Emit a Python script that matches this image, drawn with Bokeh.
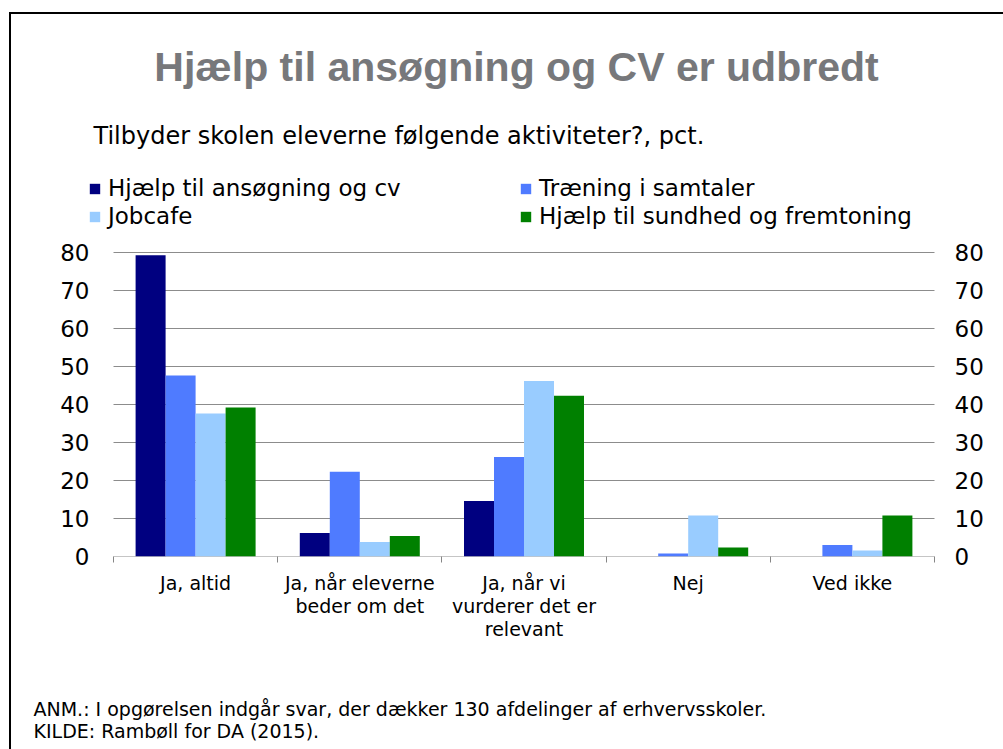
from bokeh.plotting import figure
from bokeh.models import (Range1d, LinearAxis, FixedTicker, Legend, LegendItem, Title, Label,
                          ColumnDataSource)
from bokeh.embed import file_html
from bokeh.resources import INLINE

categories = ["Ja, altid", "Ja, når eleverne\nbeder om det", "Ja, når vi\nvurderer det er\nrelevant", "Nej", "Ved ikke"]
series_names = ["Hjælp til ansøgning og cv", "Træning i samtaler", "Jobcafe", "Hjælp til sundhed og fremtoning"]
cv_help = [79.3, 6.2, 14.6, 0.0, 0.0]
interview = [47.6, 22.3, 26.2, 0.8, 3.0]
jobcafe = [37.6, 3.8, 46.2, 10.8, 1.6]
health = [39.2, 5.4, 42.3, 2.4, 10.8]
series_values = [cv_help, interview, jobcafe, health]
colors = ["#000080", "#4F7BFF", "#99CCFF", "#008000"]
y_ticks = [0, 10, 20, 30, 40, 50, 60, 70, 80]

title_text = "Hjælp til ansøgning og CV er udbredt"
subtitle_text = "Tilbyder skolen eleverne følgende aktiviteter?, pct."
NB = "\u00a0"
note_text = ("ANM.:" + NB + "I opgørelsen indgår svar, der dækker 130 afdelinger af erhvervsskoler.\n"
             "KILDE:" + NB + "Rambøll for DA (2015).")

FONT = "DejaVu Sans"
n = len(categories)

# pixel geometry of the chart (frame extends above the 0-80 area to hold titles/legend)
CAT_W = 164.2          # px per category
PX_PER_UNIT = 3.8      # px per percentage point
X0_PX, Y0_PX = 113, 556
FRAME_L, FRAME_R, FRAME_T = 88, 957, 12
W, H = 1003, 749

x_start = -(X0_PX - FRAME_L) / CAT_W
x_end = n + (FRAME_R - (X0_PX + n * CAT_W)) / CAT_W
y_end = (Y0_PX - FRAME_T) / PX_PER_UNIT

p = figure(width=W, height=H, x_range=Range1d(x_start, x_end), y_range=Range1d(0, y_end),
           output_backend="svg", toolbar_location=None,
           min_border_left=FRAME_L, min_border_right=W - FRAME_R,
           min_border_top=FRAME_T, min_border_bottom=H - Y0_PX,
           x_axis_location=None, y_axis_location=None)
p.outline_line_color = None
p.background_fill_alpha = 0
p.border_fill_alpha = 0
p.styles = {
    "background-color": "white",
    "background-image": "linear-gradient(black, black), linear-gradient(black, black)",
    "background-size": "100% 2px, 2px 100%",
    "background-position": "9px 12px, 9px 12px",
    "background-repeat": "no-repeat",
}
p.xgrid.visible = False
p.ygrid.visible = False

# horizontal gridlines across the category area
p.segment(x0=[0] * len(y_ticks), x1=[n] * len(y_ticks), y0=y_ticks, y1=y_ticks,
          line_color="#8C8C8C", line_width=1)

# y axes
for side, standoff in [("left", -1), ("right", -3)]:
    ax = LinearAxis(ticker=FixedTicker(ticks=y_ticks))
    ax.axis_line_color = None
    ax.major_tick_line_color = None
    ax.minor_tick_line_color = None
    ax.major_tick_out = 0
    ax.major_tick_in = 0
    ax.minor_tick_out = 0
    ax.major_label_text_font = FONT
    ax.major_label_text_font_size = "23px"
    ax.major_label_text_color = "black"
    ax.major_label_standoff = standoff
    p.add_layout(ax, side)

# x axis: labels at category centres, ticks at category boundaries
centers = [i + 0.5 for i in range(n)]
xax = LinearAxis(ticker=FixedTicker(ticks=centers, minor_ticks=list(range(n + 1))))
xax.major_label_overrides = {c: lab for c, lab in zip(centers, categories)}
xax.axis_line_color = None
xax.major_tick_line_color = None
xax.major_tick_out = 0
xax.minor_tick_line_color = "#868686"
xax.minor_tick_in = 0
xax.minor_tick_out = 6
xax.major_label_text_font = FONT
xax.major_label_text_font_size = "19px"
xax.major_label_text_color = "black"
xax.major_label_text_line_height = 1.05
xax.major_label_standoff = 9
p.add_layout(xax, "below")

# bars
w = 30 / CAT_W
offsets = [-1.5 * w, -0.5 * w, 0.5 * w, 1.5 * w]
renderers = []
for name, vals, col, off in zip(series_names, series_values, colors, offsets):
    src = ColumnDataSource(dict(x=[c + off for c in centers], top=vals))
    r = p.vbar(x="x", top="top", width=w, source=src, fill_color=col, line_color=None)
    renderers.append(r)

# legend filled column by column: (cv, jobcafe) | (samtaler, sundhed)
legend_order = [0, 2, 1, 3]
items = [LegendItem(label=series_names[k], renderers=[renderers[k]]) for k in legend_order]
legend = Legend(items=items, ncols=2, location=(0, Y0_PX - 229))
legend.glyph_width = 13
legend.glyph_height = 13
legend.label_text_font = FONT
legend.label_text_font_size = "23px"
legend.label_text_color = "black"
legend.label_standoff = 7
legend.label_width = 409
legend.padding = 0
legend.margin = 0
legend.spacing = 2
legend.border_line_color = None
legend.background_fill_alpha = 0
p.add_layout(legend, "center")


def dx(px):
    return (px - X0_PX) / CAT_W


def dy(py):
    return (Y0_PX - py) / PX_PER_UNIT


p.add_layout(Label(x=dx(516), y=dy(66), text=title_text, text_align="center", text_baseline="middle",
                   text_font="Liberation Sans", text_font_style="bold", text_font_size="41px",
                   text_color="#77787B"))
p.add_layout(Label(x=dx(93), y=dy(135), text=subtitle_text, text_align="left", text_baseline="middle",
                   text_font=FONT, text_font_size="24px", text_color="black"))

# spacer between the category labels and the notes
p.add_layout(Title(text=NB, standoff=48, text_font_size="1px"), "below")
p.add_layout(Title(text=note_text, align="left", offset=33 - FRAME_L, standoff=4,
                   text_font=FONT, text_font_size="19px", text_font_style="normal",
                   text_line_height=1.0, text_color="black"), "below")

open("out.html", "w").write(file_html(p, INLINE))
